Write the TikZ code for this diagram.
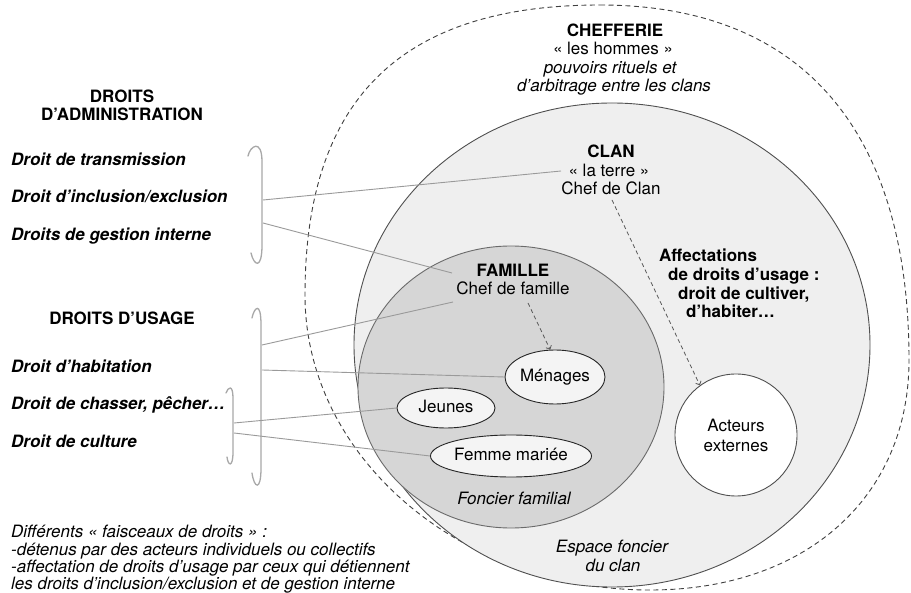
\documentclass[tikz,border=0pt]{standalone}
\usepackage{fontspec}
\setmainfont{TeX Gyre Heros}
\usetikzlibrary{arrows.meta,shapes.geometric}
\definecolor{clanfill}{HTML}{EFEFEF}
\definecolor{famfill}{HTML}{D6D6D6}
\definecolor{ellfill}{HTML}{F4F4F4}
\definecolor{linegray}{HTML}{9A9A9A}
\definecolor{brackgray}{HTML}{A8A8A8}
\definecolor{edgegray}{HTML}{505050}
\definecolor{famedge}{HTML}{6A6A6A}
\definecolor{arrowgray}{HTML}{5A5A5A}
\begin{document}
\begin{tikzpicture}[x=1pt,y=-1pt,
  txtn/.style={inner sep=0pt, font=\fontsize{17}{19}\selectfont},
  txtb/.style={inner sep=0pt, font=\fontsize{17}{19}\selectfont\bfseries},
  txti/.style={inner sep=0pt, font=\fontsize{17}{19}\selectfont\itshape},
  txtbi/.style={inner sep=0pt, font=\fontsize{17}{19}\selectfont\bfseries\itshape},
  conn/.style={draw=linegray, line width=0.9pt},
  brack/.style={draw=brackgray, line width=1.3pt, line cap=round},
  dasharrow/.style={draw=arrowgray, line width=0.8pt, dash pattern=on 4pt off 3pt, -{Straight Barb[length=3pt,width=6pt]}},
  ovalnode/.style={ellipse, draw=black!85, line width=0.9pt, fill=ellfill, inner sep=0pt,
    font=\fontsize{17}{19}\selectfont, text height=12pt, text depth=3.5pt},
]
\useasboundingbox (0,0) rectangle (911,593);
\fill[white] (0,0) rectangle (911,593);

% chefferie (dashed)
\draw[draw=black!75, line width=0.9pt, dash pattern=on 5pt off 3.5pt]
  (600,5) .. controls (801,5) and (909,129) .. (909,360)
          .. controls (909,498) and (805,590) .. (650,590)
          .. controls (460,590) and (305,457) .. (305,295)
          .. controls (305,100) and (400,5) .. cycle;

% clan
\draw[fill=clanfill, draw=edgegray, line width=0.9pt] (612,345) ellipse [x radius=258pt, y radius=242pt];
% famille
\draw[fill=famfill, draw=famedge, line width=0.9pt] (511,387) ellipse [x radius=153pt, y radius=141pt];

% acteurs externes
\node[circle, draw=edgegray, line width=0.9pt, fill=white, minimum size=122pt, inner sep=0pt,
  align=center, font=\fontsize{17}{20}\selectfont] (acteurs) at (736,435) {Acteurs\\externes};

% ellipses
\node[ovalnode, minimum width=100pt, minimum height=54pt] (menages) at (555,377) {Ménages};
\node[ovalnode, minimum width=98pt, minimum height=40pt] (jeunes) at (446,408) {Jeunes};
\node[ovalnode, minimum width=154pt, minimum height=42pt] (femme) at (511,456) {Femme mariée};

% texts in circles
\node[txtb, anchor=base] (chefferie) at (615,37) {CHEFFERIE};
\node[txtn, anchor=base] (hommes) at (613,55) {« les hommes »};
\node[txti, anchor=base] (pouvoirs) at (610,74) {pouvoirs rituels et};
\node[txti, anchor=base] (arbitrage) at (614,92) {d’arbitrage entre les clans};

\node[txtb, anchor=base] (clan) at (611,158) {CLAN};
\node[txtn, anchor=base] (terre) at (609,177) {« la terre »};
\node[txtn, anchor=base] (chefclan) at (611,195) {Chef de Clan};

\node[txtb, anchor=base] (famille) at (513,277) {FAMILLE};
\node[txtn, anchor=base] (cheffam) at (513,295) {Chef de famille};

\node[txtb, anchor=base west] (aff1) at (659,262) {Affectations};
\node[txtb, anchor=base west] (aff2) at (668,281) {de droits d’usage :};
\node[txtb, anchor=base west] (aff3) at (678,300) {droit de cultiver,};
\node[txtb, anchor=base west] (aff4) at (686,318) {d’habiter…};

\node[txti, anchor=base] (foncfam) at (514,505) {Foncier familial};
\node[txti, anchor=base] (espace1) at (612,553) {Espace foncier};
\node[txti, anchor=base] (espace2) at (613,572) {du clan};

% left column
\node[txtb, anchor=base] (dadm1) at (122,103) {DROITS};
\node[txtb, anchor=base] (dadm2) at (122,121) {D’ADMINISTRATION};
\node[txtbi, anchor=base west] (transm) at (11,166) {Droit de transmission};
\node[txtbi, anchor=base west] (inclus) at (11,203) {Droit d’inclusion/exclusion};
\node[txtbi, anchor=base west] (gestion) at (11,241) {Droits de gestion interne};
\node[txtb, anchor=base] (dusage) at (122,325) {DROITS D’USAGE};
\node[txtbi, anchor=base west] (habit) at (11,373) {Droit d’habitation};
\node[txtbi, anchor=base west] (chasse) at (11,410) {Droit de chasser, pêcher…};
\node[txtbi, anchor=base west] (culture) at (11,448) {Droit de culture};

\node[txti, anchor=base west] (note1) at (11,537) {Différents « faisceaux de droits » :};
\node[txti, anchor=base west] (note2) at (11,555) {-détenus par des acteurs individuels ou collectifs};
\node[txti, anchor=base west] (note3) at (11,572.5) {-affectation de droits d’usage par ceux qui détiennent};
\node[txti, anchor=base west] (note4) at (11,589.5) {les droits d’inclusion/exclusion et de gestion interne};

% brackets
\draw[brack] (248,156) .. controls (250,146) and (262,138) .. (262,162) -- (262,245) .. controls (262,270) and (254,266) .. (251,253);
\draw[brack] (252,318) .. controls (254,308) and (261,300) .. (261,325) -- (261,468) .. controls (261,492) and (254,488) .. (252,473);
\draw[brack] (226,393) .. controls (228,387) and (233,384) .. (233,398) -- (233,452) .. controls (233,468) and (228,466) .. (227,457);

% connector anchors
\coordinate (a1) at (263,200);
\coordinate (a2) at (263,223);
\coordinate (u1) at (262,345);
\coordinate (u2) at (262,370);
\coordinate (s1) at (234,423);
\coordinate (s2) at (234,433);
\coordinate (terreend) at (561,171);
\coordinate (famend) at (452,273);
\coordinate (cheffamend) at (453,302);

\draw[conn] (a1) -- (terreend);
\draw[conn] (a2) -- (famend);
\draw[conn] (u1) -- (cheffamend);
\draw[conn] (u2) -- (menages.west);
\draw[conn] (s1) -- (jeunes.west);
\draw[conn] (s2) -- (femme.west);

% dashed arrows
\coordinate (fa1) at (528,303);
\coordinate (ca1) at (612,200);
\draw[dasharrow] (fa1) -- (menages.100);
\draw[dasharrow] (ca1) -- (acteurs.126);
\end{tikzpicture}
\end{document}
